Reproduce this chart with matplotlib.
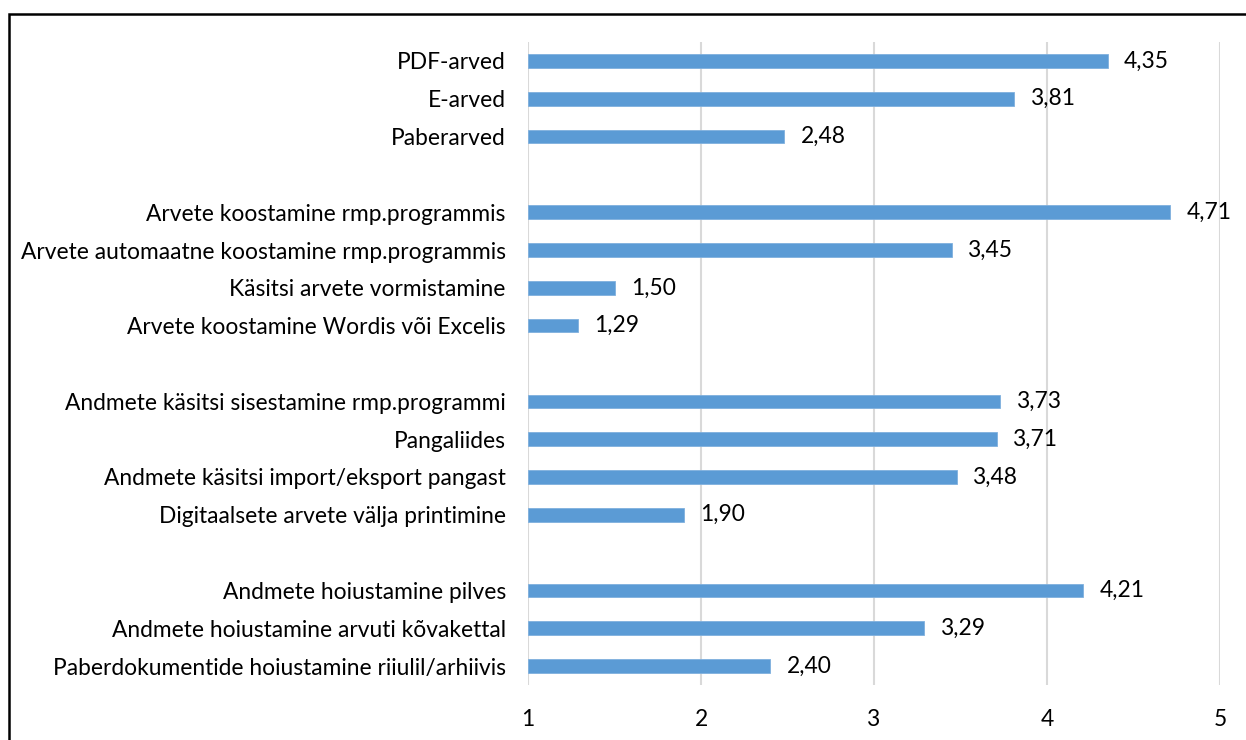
import matplotlib
matplotlib.use("Agg")
import matplotlib.pyplot as plt
from matplotlib.patches import Rectangle
import numpy as np

plt.rcParams['font.family'] = ['Lato', 'DejaVu Sans']

group1 = ["PDF-arved", "E-arved", "Paberarved"]
values1 = [4.35, 3.81, 2.48]
group2 = ["Arvete koostamine rmp.programmis", "Arvete automaatne koostamine rmp.programmis",
          "Käsitsi arvete vormistamine", "Arvete koostamine Wordis või Excelis"]
values2 = [4.71, 3.45, 1.50, 1.29]
group3 = ["Andmete käsitsi sisestamine rmp.programmi", "Pangaliides",
          "Andmete käsitsi import/eksport pangast", "Digitaalsete arvete välja printimine"]
values3 = [3.73, 3.71, 3.48, 1.90]
group4 = ["Andmete hoiustamine pilves", "Andmete hoiustamine arvuti kõvakettal",
          "Paberdokumentide hoiustamine riiulil/arhiivis"]
values4 = [4.21, 3.29, 2.40]
xticks = [1, 2, 3, 4, 5]

groups = [(group1, values1), (group2, values2), (group3, values3), (group4, values4)]

labels, vals, pos = [], [], []
p = 0
for gi, (cats, vs) in enumerate(groups):
    for c, v in zip(cats, vs):
        labels.append(c); vals.append(v); pos.append(p)
        p += 1
    p += 1  # gap
nslots = p - 1

FS = 16.4
fig = plt.figure(figsize=(12.46, 7.40), dpi=100)
ax = fig.add_axes([528/1246, 1-685/740, (1220-528)/1246, (685-42)/740])

ax.barh(pos, np.array(vals) - 1, left=1, height=0.36, color='#5B9BD5',
        edgecolor='#7FB0DE', linewidth=0.6, zorder=3)
for y, v in zip(pos, vals):
    ax.text(v + 0.095, y, f"{v:.2f}".replace('.', ','), va='center', ha='left',
            fontsize=FS, color='black')

ax.set_xlim(1, 5)
ax.set_ylim(nslots - 0.5, -0.5)
ax.set_xticks(xticks)
ax.set_xticklabels([str(t) for t in xticks], fontsize=FS)
ax.set_yticks(pos)
ax.set_yticklabels(labels, fontsize=FS)
ax.tick_params(axis='y', length=0, pad=16)
ax.tick_params(axis='x', length=0, pad=17)
ax.grid(axis='x', color='#D9D9D9', linewidth=1.5, zorder=0)
for s in ax.spines.values():
    s.set_visible(False)

fig.patches.append(Rectangle((8.5/1246, -0.05), 1.1, 1 - 13.5/740 + 0.05, transform=fig.transFigure,
                             fill=False, edgecolor='black', linewidth=1.8, zorder=10))

fig.savefig("out.png", dpi=100)
